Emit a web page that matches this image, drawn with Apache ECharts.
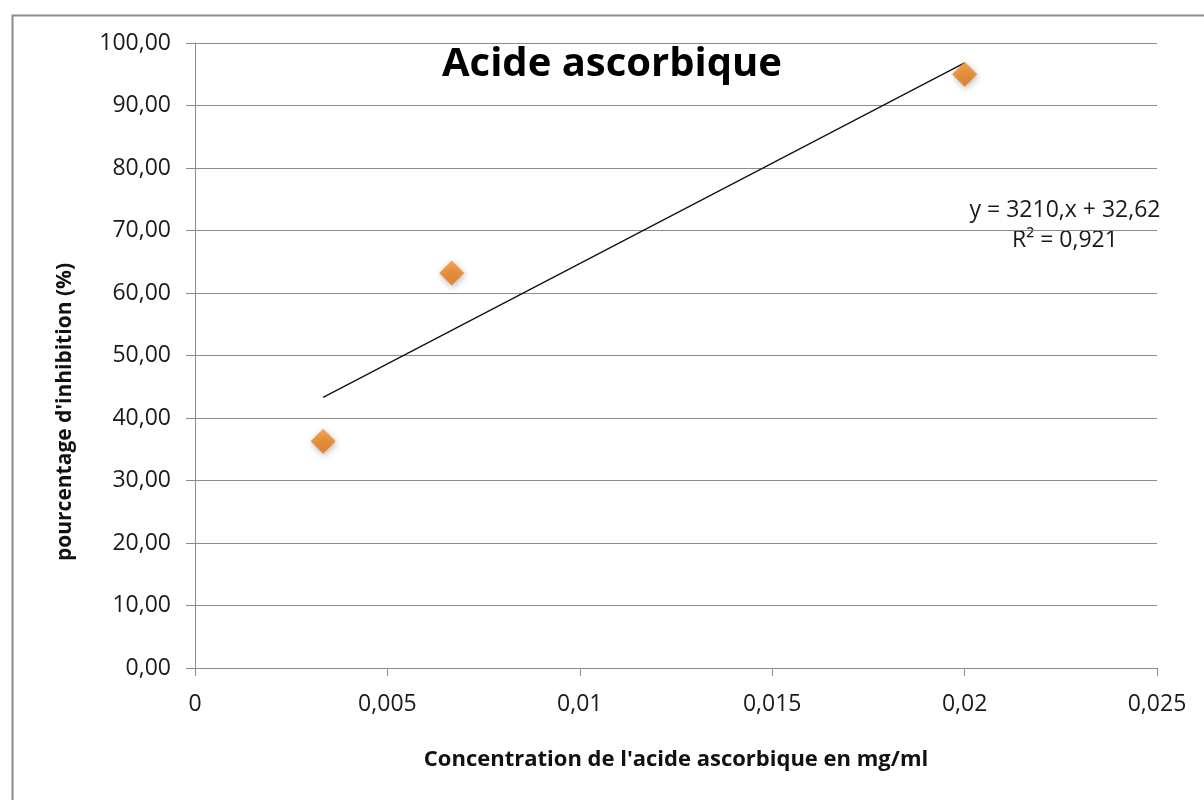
<!DOCTYPE html>
<html>
<head>
<meta charset="utf-8">
<script src="https://cdn.jsdelivr.net/npm/echarts@6/dist/echarts.min.js"></script>
<style>
  html, body { margin: 0; padding: 0; background: #fff; }
  #chart { width: 1204px; height: 800px; }
</style>
</head>
<body>
<div id="chart"></div>
<script>
// Concentrations (mg/ml) and measured inhibition (%)
const concentrations = [0.00333, 0.00667, 0.02];
const inhibition = [36.3, 63.2, 95.0];

// Linear trendline coefficients
const slope = 3210;
const intercept = 32.62;
const rSquared = 0.921;

const yTicks = [0, 10, 20, 30, 40, 50, 60, 70, 80, 90, 100];

const FONT = '"Open Sans", "Noto Sans", sans-serif';
const fmtComma = (v, d) => v.toFixed(d).replace('.', ',');

const points = concentrations.map((c, i) => [c, inhibition[i]]);
const xMin = Math.min(...concentrations);
const xMax = Math.max(...concentrations);
const trend = [[xMin, slope * xMin + intercept], [xMax, slope * xMax + intercept]];

const chart = echarts.init(document.getElementById('chart'), null, { renderer: 'canvas' });
chart.setOption({
  backgroundColor: '#ffffff',
  animation: false,
  grid: { left: 195, right: 47, top: 43, bottom: 132 },
  xAxis: {
    type: 'value',
    min: 0, max: 0.025, interval: 0.005,
    axisLine: { show: true, lineStyle: { color: '#8c8c8c', width: 1 } },
    axisTick: { show: true, length: 8, lineStyle: { color: '#8c8c8c' } },
    splitLine: { show: false },
    axisLabel: {
      color: '#1a1a1a', fontFamily: FONT, fontSize: 23, margin: 25,
      formatter: v => v === 0 ? '0' : String(+v.toFixed(3)).replace('.', ',')
    },
    name: "Concentration de l'acide ascorbique en mg/ml",
    nameLocation: 'middle', nameGap: 81,
    nameTextStyle: { color: '#111', fontFamily: FONT, fontSize: 22, fontWeight: 'bold' }
  },
  yAxis: {
    type: 'value',
    min: 0, max: 100, interval: 10,
    axisLine: { show: true, lineStyle: { color: '#8c8c8c', width: 1 } },
    axisTick: { show: true, length: 9, lineStyle: { color: '#8c8c8c' } },
    splitLine: { show: true, lineStyle: { color: '#8c8c8c', width: 1 } },
    axisLabel: {
      color: '#1a1a1a', fontFamily: FONT, fontSize: 23, margin: 24,
      formatter: v => fmtComma(v, 2)
    }
  },
  series: [
    {
      type: 'line',
      data: trend,
      symbol: 'none',
      lineStyle: { color: '#111', width: 1.3 },
      z: 3
    },
    {
      type: 'scatter',
      data: points,
      symbol: 'diamond',
      symbolSize: [25, 25],
      itemStyle: {
        color: new echarts.graphic.LinearGradient(0, 0, 0, 1, [
          { offset: 0, color: '#f7912a' },
          { offset: 1, color: '#e2700c' }
        ]),
        shadowColor: 'rgba(0,0,0,0.35)', shadowBlur: 6, shadowOffsetX: 1, shadowOffsetY: 2
      },
      z: 4
    }
  ],
  graphic: [
    {
      type: 'rect', left: 10, top: 13, silent: true,
      shape: { x: 0, y: 0, width: 1220, height: 820 },
      style: { fill: 'none', stroke: '#8a8a8a', lineWidth: 2 }
    },
    {
      type: 'text', x: 612, y: 65,
      style: {
        text: 'Acide ascorbique', fontFamily: FONT, fontSize: 40, fontWeight: 'bold',
        fill: '#000', align: 'center', verticalAlign: 'middle'
      }
    },
    {
      type: 'text', x: 65, y: 412, rotation: Math.PI / 2,
      style: {
        text: "pourcentage d'inhibition (%)", fontFamily: FONT, fontSize: 21, fontWeight: 'bold',
        fill: '#111', align: 'center', verticalAlign: 'middle'
      }
    },
    {
      type: 'text', x: 1065, y: 210,
      style: {
        text: 'y = ' + slope + ',x + ' + fmtComma(intercept, 2), fontFamily: FONT, fontSize: 23,
        fill: '#1a1a1a', align: 'center', verticalAlign: 'middle'
      }
    },
    {
      type: 'text', x: 1065, y: 240,
      style: {
        text: 'R\u00b2 = ' + fmtComma(rSquared, 3), fontFamily: FONT, fontSize: 23,
        fill: '#1a1a1a', align: 'center', verticalAlign: 'middle'
      }
    }
  ]
});
</script>
</body>
</html>
